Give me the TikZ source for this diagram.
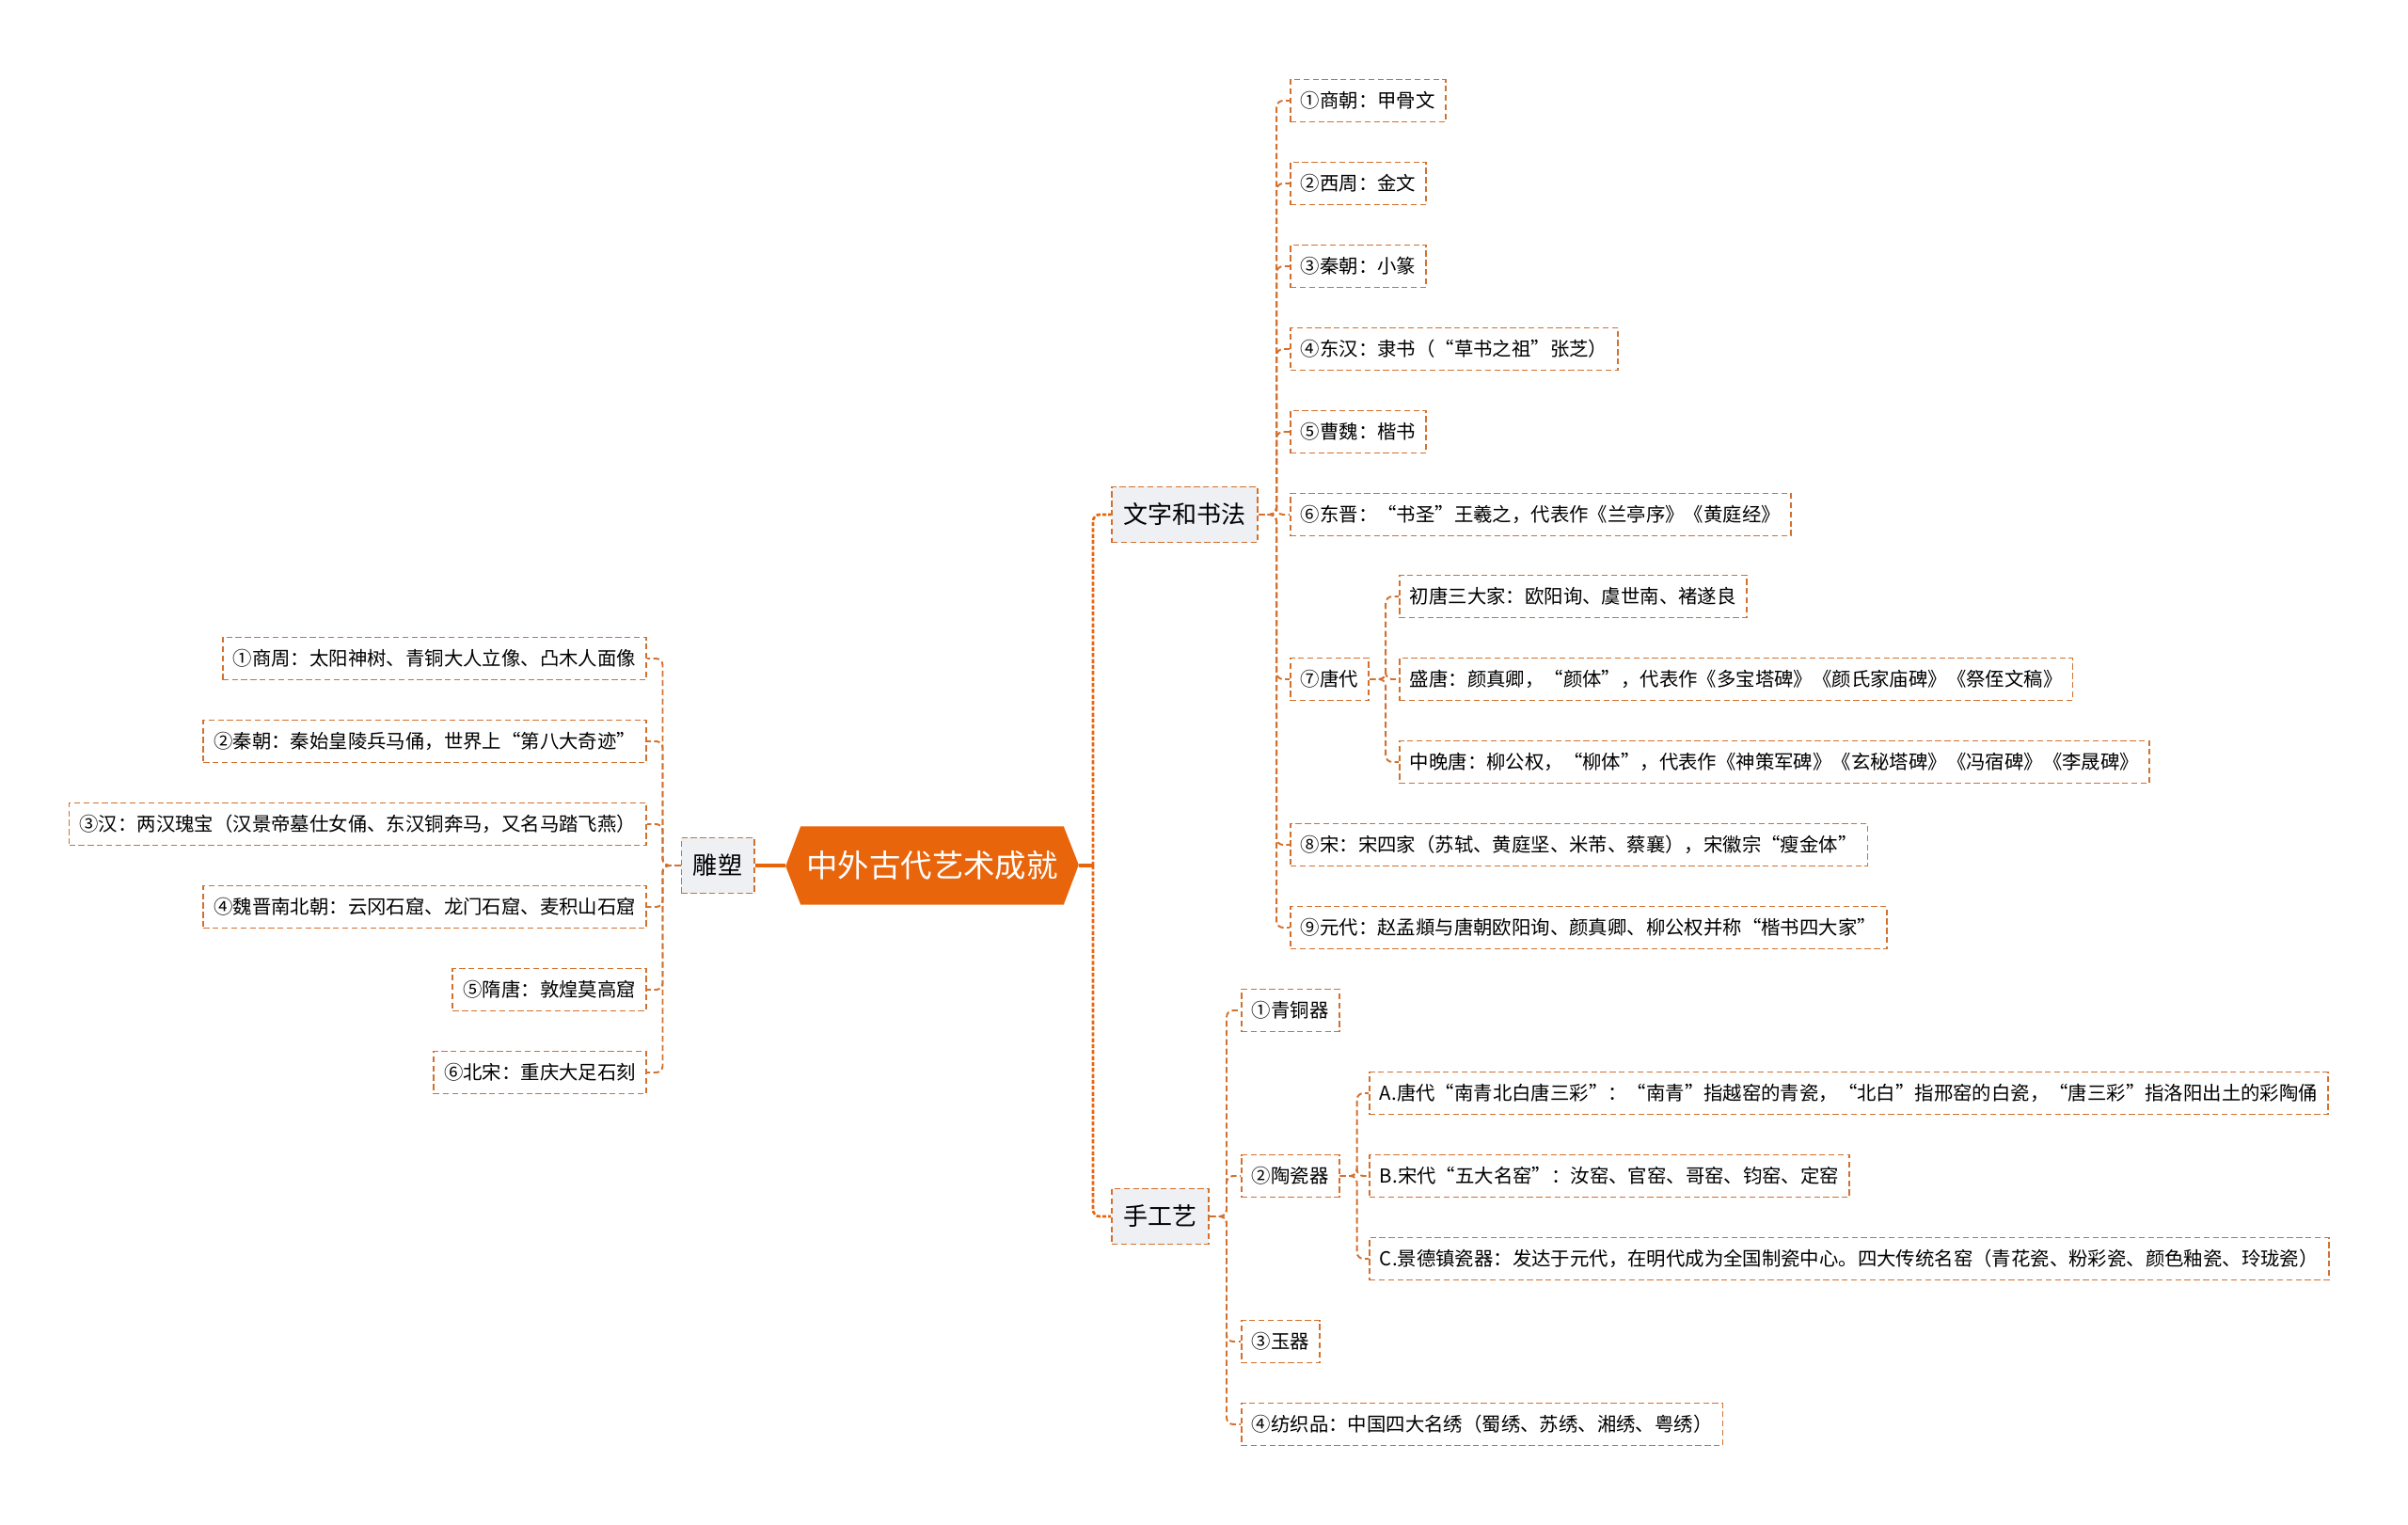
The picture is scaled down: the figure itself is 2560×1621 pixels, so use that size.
\documentclass[tikz,border=0pt]{standalone}
\usepackage{fontspec}
\setmainfont{Noto Sans CJK SC}
\usepackage{xcolor}
\usepackage{tikz}
\usetikzlibrary{positioning,backgrounds}

\definecolor{rootc}{HTML}{E9650C}
\definecolor{linkc}{HTML}{D2712E}
\definecolor{midc}{HTML}{EEF0F4}

\begin{document}
\begin{tikzpicture}[x=0.01cm, y=-0.01cm,
    leaf/.style={draw=linkc, line width=0.55pt, dash pattern=on 1.8pt off 1pt, fill=white,
      inner xsep=0.11cm, inner ysep=0pt, minimum height=0.45cm, font=\fontsize{5.8pt}{7pt}\selectfont},
    topic/.style={leaf, fill=midc, inner xsep=0.125cm, minimum height=0.59cm, font=\fontsize{7.4pt}{9pt}\selectfont},
    rootbox/.style={text=white, inner sep=0pt, minimum width=2.78cm, minimum height=0.82cm,
      font=\fontsize{9.5pt}{11pt}\selectfont},
    link/.style={draw=linkc, line width=0.55pt, dash pattern=on 1.8pt off 1pt, rounded corners=2pt},
    trunk/.style={draw=rootc, line width=0.75pt, dash pattern=on 1.2pt off 0.6pt, rounded corners=2pt},
    rootline/.style={draw=rootc, line width=0.9pt}]
  \useasboundingbox (0,0) rectangle (2560,1621);

  % centre
  \node[rootbox] (root) at (991,920) {中外古代艺术成就};
  \begin{scope}[on background layer]
    \fill[rootc] (root.north west) -- (root.north east) -- ++(16,41) -- (root.south east)
      -- (root.south west) -- ++(-16,-41) -- cycle;
  \end{scope}
  \coordinate (hub) at (1162,920);

  % main topics
  \node[topic] (diao) at (763,920) {雕塑};
  \node[topic, anchor=west] (wz) at (1181,547) {文字和书法};
  \node[topic, anchor=west] (sgy) at (1181,1293) {手工艺};
  \draw[rootline] (root.west) ++(-16,0) -- (diao.east);
  \draw[rootline] (root.east) ++(16,0) -- (hub);
  \draw[trunk] (hub) |- (wz.west);
  \draw[trunk] (hub) |- (sgy.west);

  % sculpture
  \foreach \i/\t in {1/{①商周：太阳神树、青铜大人立像、凸木人面像},
                     2/{②秦朝：秦始皇陵兵马俑，世界上“第八大奇迹”},
                     3/{③汉：两汉瑰宝（汉景帝墓仕女俑、东汉铜奔马，又名马踏飞燕）},
                     4/{④魏晋南北朝：云冈石窟、龙门石窟、麦积山石窟},
                     5/{⑤隋唐：敦煌莫高窟},
                     6/{⑥北宋：重庆大足石刻}} {
    \node[leaf, anchor=east] (d\i) at (688,612+88*\i) {\t};
    \draw[link] (diao.west) -- ++(-19,0) |- (d\i.east);}

  % writing and calligraphy
  \foreach \i/\y/\t in {1/107/{①商朝：甲骨文},
                        2/195/{②西周：金文},
                        3/283/{③秦朝：小篆},
                        4/371/{④东汉：隶书（“草书之祖”张芝）},
                        5/459/{⑤曹魏：楷书},
                        6/547/{⑥东晋：“书圣”王羲之，代表作《兰亭序》《黄庭经》},
                        7/722/{⑦唐代},
                        8/898/{⑧宋：宋四家（苏轼、黄庭坚、米芾、蔡襄），宋徽宗“瘦金体”},
                        9/986/{⑨元代：赵孟頫与唐朝欧阳询、颜真卿、柳公权并称“楷书四大家”}} {
    \node[leaf, anchor=west] (w\i) at (1371,\y) {\t};
    \draw[link] (wz.east) -- ++(19,0) |- (w\i.west);}
  \foreach \i/\y/\t in {1/634/{初唐三大家：欧阳询、虞世南、褚遂良},
                        2/722/{盛唐：颜真卿，“颜体”，代表作《多宝塔碑》《颜氏家庙碑》《祭侄文稿》},
                        3/810/{中晚唐：柳公权，“柳体”，代表作《神策军碑》《玄秘塔碑》《冯宿碑》《李晟碑》}} {
    \node[leaf, anchor=west] (t\i) at (1487,\y) {\t};
    \draw[link] (w7.east) -- ++(17,0) |- (t\i.west);}

  % handicraft
  \foreach \i/\y/\t in {1/1074/{①青铜器},
                        2/1250/{②陶瓷器},
                        3/1426/{③玉器},
                        4/1514/{④纺织品：中国四大名绣（蜀绣、苏绣、湘绣、粤绣）}} {
    \node[leaf, anchor=west] (s\i) at (1319,\y) {\t};
    \draw[link] (sgy.east) -- ++(18,0) |- (s\i.west);}
  \foreach \i/\y/\t in {1/1162/{A.唐代“南青北白唐三彩”：“南青”指越窑的青瓷，“北白”指邢窑的白瓷，“唐三彩”指洛阳出土的彩陶俑},
                        2/1250/{B.宋代“五大名窑”：汝窑、官窑、哥窑、钧窑、定窑},
                        3/1338/{C.景德镇瓷器：发达于元代，在明代成为全国制瓷中心。四大传统名窑（青花瓷、粉彩瓷、颜色釉瓷、玲珑瓷）}} {
    \node[leaf, anchor=west] (c\i) at (1455,\y) {\t};
    \draw[link] (s2.east) -- ++(18,0) |- (c\i.west);}
\end{tikzpicture}
\end{document}
